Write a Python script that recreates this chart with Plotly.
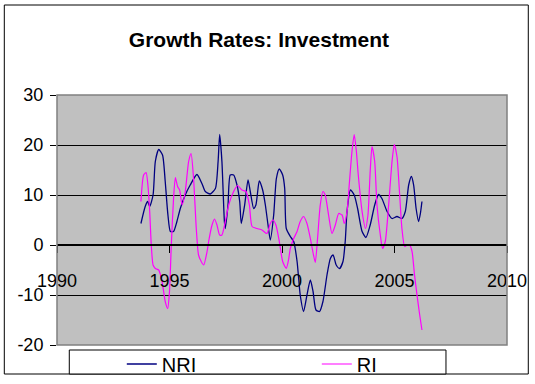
import plotly.graph_objects as go

# NRI series (year, growth %)
nri_year = [1993.73, 1993.92, 1994.03, 1994.12, 1994.27, 1994.37, 1994.52, 1994.69, 1994.81, 1994.93,
            1995.04, 1995.18, 1995.33, 1995.48, 1995.70, 1995.92, 1996.22, 1996.44, 1996.59, 1996.81,
            1997.04, 1997.16, 1997.23, 1997.33, 1997.44, 1997.48, 1997.60, 1997.70, 1997.85, 1998.00,
            1998.12, 1998.19, 1998.34, 1998.49, 1998.59, 1998.74, 1998.84, 1998.99, 1999.14, 1999.26,
            1999.40, 1999.48, 1999.63, 1999.75, 1999.88, 2000.03, 2000.12, 2000.19, 2000.37, 2000.52,
            2000.67, 2000.81, 2000.96, 2001.11, 2001.26, 2001.38, 2001.51, 2001.67, 2001.82, 2002.00,
            2002.15, 2002.27, 2002.41, 2002.56, 2002.71, 2002.81, 2002.89, 2003.04, 2003.21, 2003.36,
            2003.56, 2003.73, 2003.92, 2004.12, 2004.29, 2004.44, 2004.67, 2004.89, 2005.11, 2005.33,
            2005.48, 2005.63, 2005.75, 2005.85, 2005.96, 2006.07, 2006.15, 2006.22]
nri_value = [4.3, 7.7, 8.7, 7.7, 10.0, 16.7, 19.1, 18.0, 12.7, 6.0,
             2.7, 2.7, 4.7, 7.3, 10.0, 12.0, 14.1, 12.3, 10.7, 10.2,
             11.3, 16.7, 22.1, 16.7, 4.7, 3.3, 8.0, 14.0, 14.0, 12.0,
             8.7, 4.3, 8.0, 13.0, 10.7, 7.3, 8.0, 12.8, 11.0, 8.0,
             3.3, 1.0, 6.0, 13.3, 15.2, 14.0, 11.3, 3.3, 1.7, 0.7,
             -3.3, -10.0, -13.3, -10.0, -7.0, -9.3, -13.0, -13.3, -11.3, -6.0,
             -2.7, -2.0, -4.0, -4.7, -3.3, 0.7, 6.7, 11.0, 10.0, 7.3,
             2.7, 1.5, 4.0, 8.0, 10.1, 9.3, 6.7, 5.3, 5.7, 5.3,
             6.7, 12.0, 13.7, 12.0, 7.3, 4.7, 6.3, 8.7]

# RI series (year, growth %)
ri_year = [1993.73, 1993.85, 1993.96, 1994.04, 1994.12, 1994.19, 1994.27, 1994.37, 1994.52, 1994.67,
           1994.81, 1994.92, 1995.00, 1995.08, 1995.18, 1995.26, 1995.36, 1995.45, 1995.56, 1995.70,
           1995.85, 1995.96, 1996.07, 1996.19, 1996.29, 1996.41, 1996.52, 1996.67, 1996.74, 1996.89,
           1997.00, 1997.11, 1997.23, 1997.33, 1997.48, 1997.63, 1997.85, 1998.03, 1998.22, 1998.40,
           1998.55, 1998.67, 1998.89, 1999.11, 1999.33, 1999.48, 1999.60, 1999.73, 1999.88, 2000.03,
           2000.19, 2000.29, 2000.37, 2000.52, 2000.67, 2000.81, 2000.96, 2001.11, 2001.26, 2001.40,
           2001.48, 2001.58, 2001.70, 2001.82, 2001.92, 2002.07, 2002.22, 2002.37, 2002.52, 2002.67,
           2002.77, 2002.89, 2003.00, 2003.11, 2003.21, 2003.30, 2003.39, 2003.56, 2003.71, 2003.82,
           2003.92, 2004.00, 2004.12, 2004.22, 2004.37, 2004.47, 2004.59, 2004.74, 2004.89, 2004.99,
           2005.11, 2005.23, 2005.33, 2005.45, 2005.56, 2005.67, 2005.78, 2005.89, 2006.00, 2006.12,
           2006.22]
ri_value = [8.7, 14.0, 14.5, 12.0, 6.7, 0.0, -4.0, -4.7, -5.0, -7.3,
            -11.3, -12.7, -9.3, 0.0, 9.3, 13.5, 11.7, 11.0, 8.0, 10.7,
            16.7, 18.3, 13.3, 3.3, -2.0, -3.3, -4.0, -1.3, 0.7, 4.0,
            5.2, 4.0, 2.0, 2.0, 4.7, 8.0, 10.7, 11.9, 11.0, 10.7,
            8.0, 3.7, 3.3, 3.0, 2.3, 4.3, 5.0, 4.0, 0.7, -3.3,
            -4.7, -3.0, -0.7, 1.3, 2.7, 4.7, 5.7, 4.3, 1.3, -2.0,
            -3.5, 1.3, 8.0, 10.7, 10.0, 6.0, 2.3, 4.0, 6.3, 6.0,
            4.3, 6.7, 12.7, 18.7, 22.1, 19.0, 14.0, 6.7, 3.3, 6.0,
            14.7, 19.7, 16.7, 8.0, 2.0, -0.7, 0.7, 8.0, 16.7, 20.1,
            17.7, 10.0, 3.3, -0.3, 0.0, 0.0, -1.3, -6.0, -10.0, -14.0,
            -17.0]

x_ticks = [1990, 1995, 2000, 2005, 2010]
y_ticks = [-20, -10, 0, 10, 20, 30]
y_tick_labels = ["-20", "-10", "0", "10", "20", "30"]

FONT = "Liberation Sans, Arial, sans-serif"

fig = go.Figure()
fig.add_trace(go.Scatter(x=nri_year, y=nri_value, name="NRI", mode="lines",
                         line=dict(color="#000080", width=1.3, shape="spline", smoothing=0.6)))
fig.add_trace(go.Scatter(x=ri_year, y=ri_value, name="RI", mode="lines",
                         line=dict(color="#FF00FF", width=1.2, shape="spline", smoothing=0.6)))

fig.update_layout(
    width=535, height=384,
    margin=dict(l=57, r=28, t=95, b=39, autoexpand=False),
    paper_bgcolor="white", plot_bgcolor="#C0C0C0",
    title=dict(text="Growth Rates: Investment", x=0.484, xref="container", xanchor="center",
               y=0.898, yref="container", yanchor="middle",
               font=dict(family=FONT, size=21, color="black", weight="bold")),
    showlegend=True,
    legend=dict(orientation="h", x=0.144, xanchor="left", y=-0.076, yanchor="middle",
                bgcolor="rgba(0,0,0,0)", font=dict(family=FONT, size=20, color="black"),
                entrywidth=150, entrywidthmode="pixels", itemclick=False),
    xaxis=dict(range=[1990, 2010], tickvals=x_ticks, ticktext=[str(v) for v in x_ticks],
               anchor="free", position=0.4, showline=True, linecolor="black", linewidth=2,
               ticks="outside", ticklen=7, tickcolor="black", showgrid=False, zeroline=False,
               ticklabelstandoff=12, automargin=False,
               tickfont=dict(family=FONT, size=18, color="black")),
    yaxis=dict(range=[-20, 30], tickvals=y_ticks, ticktext=y_tick_labels,
               showgrid=True, gridcolor="black", gridwidth=1,
               ticks="outside", ticklen=6, tickcolor="black", zeroline=False, showline=False,
               ticklabelstandoff=3, automargin=False,
               tickfont=dict(family=FONT, size=18, color="black")),
    shapes=[
        dict(type="rect", xref="paper", yref="paper", x0=-0.1171, x1=1.0473, y0=-0.116, y1=1.36,
             line=dict(color="black", width=1), fillcolor="rgba(0,0,0,0)", layer="below"),
        dict(type="rect", xref="paper", yref="paper", x0=0.0273, x1=0.8644, y0=-0.116, y1=-0.02,
             line=dict(color="black", width=1), fillcolor="white", layer="below"),
        dict(type="rect", xref="paper", yref="paper", x0=0, x1=1, y0=0, y1=1,
             line=dict(color="#808080", width=1.5), fillcolor="rgba(0,0,0,0)", layer="above"),
    ],
)

fig.write_html("out.html", config={"displayModeBar": False},
               post_script="document.body.style.margin='0';")
